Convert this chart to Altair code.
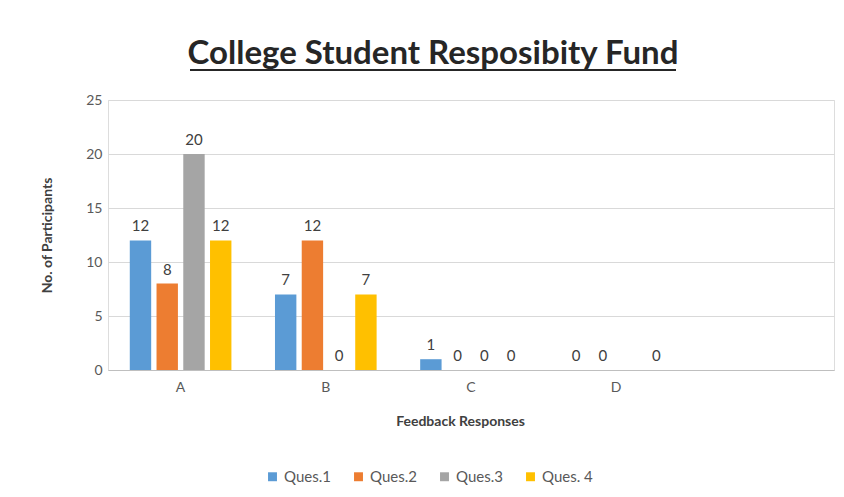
import altair as alt
import pandas as pd

categories = ["A", "B", "C", "D"]
x_domain = categories + [" "]
series = ["Ques.1", "Ques.2", "Ques.3", "Ques. 4"]
q1 = [12, 7, 1, 0]
q2 = [8, 12, 0, 0]
q3 = [20, 0, 0, None]
q4 = [12, 7, 0, 0]
colors = ["#5B9BD5", "#ED7D31", "#A5A5A5", "#FFC000"]

rows = []
for s, vals in zip(series, [q1, q2, q3, q4]):
    for c, v in zip(categories, vals):
        if v is not None:
            rows.append({"cat": c, "series": s, "value": v})
df = pd.DataFrame(rows)

FONT = "Lato"

x = alt.X(
    "cat:N",
    scale=alt.Scale(domain=x_domain, paddingInner=0.3, paddingOuter=0.15),
    title="Feedback Responses",
    axis=alt.Axis(
        labelAngle=0, labelFontSize=14, labelColor="#595959", labelFont=FONT,
        titleFontSize=14, titleFontWeight="bold", titleColor="#404040", titleFont=FONT,
        titlePadding=20, labelPadding=10, ticks=False, titleX=352,
        domainColor="#BFBFBF", grid=False,
    ),
)
xo = alt.XOffset("series:N", scale=alt.Scale(domain=series, paddingInner=0.2, paddingOuter=0))
yscale = alt.Scale(domain=[0, 25], nice=False)
y = alt.Y(
    "value:Q",
    scale=yscale,
    title="No. of Participants",
    axis=alt.Axis(
        values=[0, 5, 10, 15, 20, 25], labelFontSize=14, labelColor="#595959", labelFont=FONT,
        titleFontSize=14, titleFontWeight="bold", titleColor="#404040", titleFont=FONT,
        titlePadding=31, labelPadding=6, ticks=False, domain=False,
        gridColor="#D9D9D9",
    ),
)

base = alt.Chart(df).encode(x=x, xOffset=xo)

bars = base.mark_bar().encode(
    y=y,
    color=alt.Color(
        "series:N",
        scale=alt.Scale(domain=series, range=colors),
        legend=alt.Legend(
            title=None, orient="none", direction="horizontal",
            legendX=157, legendY=369, symbolType="square", symbolSize=80,
            symbolStrokeWidth=0, labelFontSize=15, labelColor="#595959", labelFont=FONT,
            columnPadding=20, labelOffset=4,
        ),
    ),
)

labels = base.mark_text(
    baseline="bottom", dy=-6, fontSize=15, color="#404040", font=FONT
).encode(y=alt.Y("value:Q", scale=yscale), text=alt.Text("value:Q"))

underline = alt.Chart(pd.DataFrame({"a": [0]})).mark_rule(color="#262626", strokeWidth=2).encode(
    x=alt.value(82), x2=alt.value(568), y=alt.value(-30)
)

chart = alt.layer(bars, labels, underline).properties(
    width=726,
    height=270,
    title=alt.TitleParams(
        "College Student Resposibity Fund", font=FONT, fontSize=33, fontWeight="bold",
        color="#262626", anchor="middle", dx=-38, offset=-2,
    ),
    autosize=alt.AutoSizeParams(type="none"),
    padding={"left": 100, "top": 92, "right": 2, "bottom": 119},
).configure_view(strokeWidth=0).configure(background="white")

chart.save("out.html", embed_options={"renderer": "svg", "actions": False})
